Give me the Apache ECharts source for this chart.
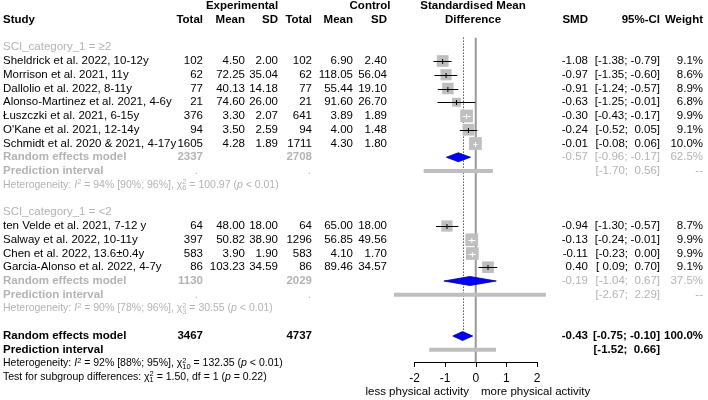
<!DOCTYPE html>
<html>
<head>
<meta charset="utf-8">
<script src="https://cdn.jsdelivr.net/npm/echarts@6/dist/echarts.min.js"></script>
<style>
  html, body { margin: 0; padding: 0; background: #fff; }
  #chart { width: 708px; height: 400px; }
</style>
</head>
<body>
<div id="chart"></div>
<script>
// subgroup SCI_category_1 = >=2
const studies1 = [
  'Sheldrick et al. 2022, 10-12y',
  'Morrison et al. 2021, 11y',
  'Dallolio et al. 2022, 8-11y',
  'Alonso-Martinez et al. 2021, 4-6y',
  'Łuszczki et al. 2021, 6-15y',
  "O'Kane et al. 2021, 12-14y",
  'Schmidt et al. 2020 & 2021, 4-17y'
]
const expN1 = [102, 62, 77, 21, 376, 94, 1605]
const expMean1 = [4.50, 72.25, 40.13, 74.60, 3.30, 3.50, 4.28]
const expSd1 = [2.00, 35.04, 14.18, 26.00, 2.07, 2.59, 1.89]
const ctrlN1 = [102, 62, 77, 21, 641, 94, 1711]
const ctrlMean1 = [6.90, 118.05, 55.44, 91.60, 3.89, 4.00, 4.30]
const ctrlSd1 = [2.40, 56.04, 19.10, 26.70, 1.89, 1.48, 1.80]
const smd1 = [-1.08, -0.97, -0.91, -0.63, -0.30, -0.24, -0.01]
const lo1 = [-1.38, -1.35, -1.24, -1.25, -0.43, -0.52, -0.08]
const hi1 = [-0.79, -0.60, -0.57, -0.01, -0.17, 0.05, 0.06]
const weight1 = [9.1, 8.6, 8.9, 6.8, 9.9, 9.1, 10.0]

// subgroup SCI_category_1 = <2
const studies2 = [
  'ten Velde et al. 2021, 7-12 y',
  'Salway et al. 2022, 10-11y',
  'Chen et al. 2022, 13.6±0.4y',
  'Garcia-Alonso et al. 2022, 4-7y'
]
const expN2 = [64, 397, 583, 86]
const expMean2 = [48.00, 50.82, 3.90, 103.23]
const expSd2 = [18.00, 38.90, 1.90, 34.59]
const ctrlN2 = [64, 1296, 583, 86]
const ctrlMean2 = [65.00, 56.85, 4.10, 89.46]
const ctrlSd2 = [18.00, 49.56, 1.70, 34.57]
const smd2 = [-0.94, -0.13, -0.11, 0.40]
const lo2 = [-1.30, -0.24, -0.23, 0.09]
const hi2 = [-0.57, -0.01, 0.00, 0.70]
const weight2 = [8.7, 9.9, 9.9, 9.1]

// pooled: subgroup 1, subgroup 2, overall
const groupLabels = ['SCI_category_1 = ≥2', 'SCI_category_1 = <2']
const pooledExpN = [2337, 1130, 3467]
const pooledCtrlN = [2708, 2029, 4737]
const pooledEst = [-0.57, -0.19, -0.43]
const pooledLo = [-0.96, -1.04, -0.75]
const pooledHi = [-0.17, 0.67, -0.10]
const pooledWeight = ['62.5%', '37.5%', '100.0%']
const predLo = [-1.70, -2.67, -1.52]
const predHi = [0.56, 2.29, 0.66]
const hetI2 = ['94%', '90%', '92%']
const hetI2Ci = ['[90%; 96%]', '[78%; 96%]', '[88%; 95%]']
const hetDf = [6, 3, 10]
const hetQ = ['100.97', '30.55', '132.35']
const subgroupTest = { chi: '1.50', df: 1, p: '0.22' }
const xTicks = [-2, -1, 0, 1, 2]

// layout
const ROW_H = 13.75
const TOP = 6
const FONT = 'Liberation Sans, Arial, sans-serif'
const GRAY = '#b3b3b3'
const MAIN = 11.5
const SMALL = 10.5
const COL = { name: 3, eN: 203, eM: 245, eS: 278, cN: 312, cM: 353, cS: 387, smd: 588, ci: 660, w: 703 }

const f2 = (v) => v.toFixed(2)
const pad = (v) => (v < 0 ? '' : ' ') + f2(v)
const fmtCI = (lo, hi) => '[' + pad(lo) + '; ' + pad(hi) + ']'

const cells = []
function cell(x, r, text, align, kind) {
  cells.push({ x, r, text, align, kind })
}

// header
cell(242, 0, 'Experimental', 'center', 'b')
cell(370, 0, 'Control', 'center', 'b')
cell(473, 0, 'Standardised Mean', 'center', 'b')
cell(COL.name, 1, 'Study', 'left', 'b')
cell(COL.eN, 1, 'Total', 'right', 'b')
cell(COL.eM, 1, 'Mean', 'right', 'b')
cell(COL.eS, 1, 'SD', 'right', 'b')
cell(COL.cN, 1, 'Total', 'right', 'b')
cell(COL.cM, 1, 'Mean', 'right', 'b')
cell(COL.cS, 1, 'SD', 'right', 'b')
cell(473, 1, 'Difference', 'center', 'b')
cell(COL.smd, 1, 'SMD', 'right', 'b')
cell(COL.ci, 1, '95%-CI', 'right', 'b')
cell(COL.w, 1, 'Weight', 'right', 'b')

const groups = [
  { names: studies1, eN: expN1, eM: expMean1, eS: expSd1, cN: ctrlN1, cM: ctrlMean1, cS: ctrlSd1, smd: smd1, lo: lo1, hi: hi1, w: weight1, start: 3 },
  { names: studies2, eN: expN2, eM: expMean2, eS: expSd2, cN: ctrlN2, cM: ctrlMean2, cS: ctrlSd2, smd: smd2, lo: lo2, hi: hi2, w: weight2, start: 15 }
]

function hetText(k) {
  return 'Heterogeneity: {it|I}{sup0|2} = ' + hetI2[k] + ' ' + hetI2Ci[k] + ', χ{sup|2}{sub|' + hetDf[k] + '} = ' + hetQ[k] + ' ({it|p} < 0.01)'
}

const studyData = []
const pooledRows = []
const predRows = []

groups.forEach((g, k) => {
  cell(COL.name, g.start, groupLabels[k], 'left', 'g')
  g.names.forEach((name, i) => {
    const r = g.start + 1 + i
    cell(COL.name, r, name, 'left', 'n')
    cell(COL.eN, r, String(g.eN[i]), 'right', 'n')
    cell(COL.eM, r, f2(g.eM[i]), 'right', 'n')
    cell(COL.eS, r, f2(g.eS[i]), 'right', 'n')
    cell(COL.cN, r, String(g.cN[i]), 'right', 'n')
    cell(COL.cM, r, f2(g.cM[i]), 'right', 'n')
    cell(COL.cS, r, f2(g.cS[i]), 'right', 'n')
    cell(COL.smd, r, f2(g.smd[i]), 'right', 'n')
    cell(COL.ci, r, fmtCI(g.lo[i], g.hi[i]), 'right', 'n')
    cell(COL.w, r, g.w[i].toFixed(1) + '%', 'right', 'n')
    studyData.push([g.smd[i], g.lo[i], g.hi[i], g.w[i], r])
  })
  const rr = g.start + 1 + g.names.length
  cell(COL.name, rr, 'Random effects model', 'left', 'gb')
  cell(COL.eN, rr, String(pooledExpN[k]), 'right', 'gb')
  cell(COL.cN, rr, String(pooledCtrlN[k]), 'right', 'gb')
  cell(COL.smd, rr, f2(pooledEst[k]), 'right', 'g')
  cell(COL.ci, rr, fmtCI(pooledLo[k], pooledHi[k]), 'right', 'g')
  cell(COL.w, rr, pooledWeight[k], 'right', 'g')
  cell(COL.name, rr + 1, 'Prediction interval', 'left', 'gb')
  cell(COL.eN - 5, rr + 1, '.', 'right', 'g')
  cell(COL.cN - 1, rr + 1, '.', 'right', 'g')
  cell(COL.ci, rr + 1, fmtCI(predLo[k], predHi[k]), 'right', 'g')
  cell(COL.w, rr + 1, '--', 'right', 'g')
  cell(COL.name, rr + 2, hetText(k), 'left', 'hg')
  pooledRows.push([pooledEst[k], pooledLo[k], pooledHi[k], rr])
  predRows.push([predLo[k], predHi[k], rr + 1])
})

// overall
cell(COL.name, 24, 'Random effects model', 'left', 'b')
cell(COL.eN, 24, String(pooledExpN[2]), 'right', 'b')
cell(COL.cN, 24, String(pooledCtrlN[2]), 'right', 'b')
cell(COL.smd, 24, f2(pooledEst[2]), 'right', 'b')
cell(COL.ci, 24, fmtCI(pooledLo[2], pooledHi[2]), 'right', 'b')
cell(COL.w, 24, pooledWeight[2], 'right', 'b')
cell(COL.name, 25, 'Prediction interval', 'left', 'b')
cell(COL.ci, 25, fmtCI(predLo[2], predHi[2]), 'right', 'b')
cell(COL.name, 26, hetText(2), 'left', 'h')
cell(COL.name, 27, 'Test for subgroup differences: χ{sup|2}{sub|' + subgroupTest.df + '} = ' + subgroupTest.chi + ', df = ' + subgroupTest.df + ' ({it|p} = ' + subgroupTest.p + ')', 'left', 'h')
pooledRows.push([pooledEst[2], pooledLo[2], pooledHi[2], 24])
predRows.push([predLo[2], predHi[2], 25])

// axis captions
cell(469, 28.05, 'less physical activity', 'right', 'n')
cell(481, 28.05, 'more physical activity', 'left', 'n')

function makeRich(color) {
  return {
    it: { fontFamily: FONT, fontSize: SMALL, fontStyle: 'italic', fill: color },
    sup: { fontFamily: FONT, fontSize: 7.5, fill: color, verticalAlign: 'top', lineHeight: 7, width: 0.01 },
    sup0: { fontFamily: FONT, fontSize: 7.5, fill: color, verticalAlign: 'top', lineHeight: 7 },
    sub: { fontFamily: FONT, fontSize: 7.5, fill: color, verticalAlign: 'bottom', lineHeight: 7 }
  }
}
const KIND = {
  b: { size: MAIN, weight: 'bold', color: '#000' },
  n: { size: MAIN, weight: 'normal', color: '#000' },
  gb: { size: MAIN, weight: 'bold', color: GRAY },
  g: { size: MAIN, weight: 'normal', color: GRAY },
  h: { size: SMALL, weight: 'normal', color: '#000', rich: makeRich('#000') },
  hg: { size: SMALL, weight: 'normal', color: GRAY, rich: makeRich(GRAY) }
}

function renderCell(params, api) {
  const c = cells[params.dataIndex]
  const k = KIND[c.kind]
  const p = api.coord([c.x, c.r])
  const style = {
    text: c.text,
    fontFamily: FONT,
    fontSize: k.size,
    fontWeight: k.weight,
    fill: k.color,
    align: c.align,
    verticalAlign: 'middle'
  }
  if (k.rich) {
    style.rich = k.rich
    style.lineHeight = 14
  }
  return { type: 'text', x: p[0], y: p[1], style }
}

function renderStudy(params, api) {
  const est = api.value(0), lo = api.value(1), hi = api.value(2), w = api.value(3), r = api.value(4)
  const c = api.coord([est, r])
  const pl = api.coord([lo, r])
  const ph = api.coord([hi, r])
  const side = 1.2 * w + 0.8
  const inside = pl[0] >= c[0] - side / 2 && ph[0] <= c[0] + side / 2
  const lc = inside ? '#fff' : '#000'
  const y = Math.round(c[1]) + 0.5
  return {
    type: 'group',
    children: [
      { type: 'rect', shape: { x: c[0] - side / 2, y: c[1] - side / 2, width: side, height: side }, style: { fill: '#bfbfbf' } },
      { type: 'line', shape: { x1: pl[0], y1: y, x2: ph[0], y2: y }, style: { stroke: lc, lineWidth: 1 } },
      { type: 'line', shape: { x1: c[0], y1: y - 2.5, x2: c[0], y2: y + 2.5 }, style: { stroke: lc, lineWidth: 1 } }
    ]
  }
}

function renderDiamond(params, api) {
  const r = api.value(3)
  const c = api.coord([api.value(0), r])
  const pl = api.coord([api.value(1), r])
  const ph = api.coord([api.value(2), r])
  const h = 4.5
  return {
    type: 'polygon',
    shape: { points: [[pl[0], c[1]], [c[0], c[1] - h], [ph[0], c[1]], [c[0], c[1] + h]] },
    style: { fill: '#0000ff', stroke: '#000080', lineWidth: 0.8 }
  }
}

function renderPred(params, api) {
  const r = api.value(2)
  const pl = api.coord([api.value(0), r])
  const ph = api.coord([api.value(1), r])
  return {
    type: 'line',
    shape: { x1: pl[0], y1: pl[1], x2: ph[0], y2: pl[1] },
    style: { stroke: '#bebebe', lineWidth: 4 }
  }
}

// reference lines: null effect and overall estimate
const refLines = [[0, 2.3, 25.9, 0], [pooledEst[2], 2.3, 23.65, 1]]
function renderRef(params, api) {
  const top = api.coord([api.value(0), api.value(1)])
  const bot = api.coord([api.value(0), api.value(2)])
  const dotted = api.value(3) === 1
  const x = dotted ? Math.round(top[0]) + 0.5 : top[0]
  return {
    type: 'line',
    shape: { x1: x, y1: top[1], x2: x, y2: bot[1] },
    style: dotted ? { stroke: '#000', lineWidth: 1, lineDash: [1, 2] } : { stroke: '#999', lineWidth: 2 }
  }
}

const chart = echarts.init(document.getElementById('chart'), null, { renderer: 'canvas' })

chart.setOption({
  backgroundColor: '#ffffff',
  animation: false,
  grid: [
    { left: 414.5, width: 122.5, top: TOP, height: 356 },
    { left: 0, right: 0, top: TOP, height: ROW_H * 28 }
  ],
  xAxis: [
    {
      gridIndex: 0,
      type: 'value',
      position: 'bottom',
      min: -2,
      max: 2,
      interval: 1,
      axisLine: { onZero: false, lineStyle: { color: '#000', width: 1 } },
      axisTick: { length: 5, lineStyle: { color: '#000' } },
      axisLabel: {
        margin: 11,
        fontSize: 12,
        fontFamily: FONT,
        color: '#000',
        formatter: (v) => (xTicks.includes(v) ? String(v) : '')
      },
      splitLine: { show: false }
    },
    { gridIndex: 1, type: 'value', min: 0, max: 708, show: false }
  ],
  yAxis: [
    { gridIndex: 0, type: 'value', min: 0, max: 356 / ROW_H, inverse: true, show: false },
    { gridIndex: 1, type: 'value', min: 0, max: 28, inverse: true, show: false }
  ],
  series: [
    {
      type: 'custom',
      xAxisIndex: 0, yAxisIndex: 0,
      clip: false,
      renderItem: renderRef,
      data: refLines,
      z: 1
    },
    {
      type: 'custom',
      xAxisIndex: 0, yAxisIndex: 0,
      clip: false,
      renderItem: renderPred,
      data: predRows,
      z: 2
    },
    {
      type: 'custom',
      xAxisIndex: 0, yAxisIndex: 0,
      clip: false,
      renderItem: renderStudy,
      data: studyData,
      z: 3
    },
    {
      type: 'custom',
      xAxisIndex: 0, yAxisIndex: 0,
      clip: false,
      renderItem: renderDiamond,
      data: pooledRows,
      z: 4
    },
    {
      type: 'custom',
      xAxisIndex: 1, yAxisIndex: 1,
      clip: false,
      renderItem: renderCell,
      data: cells.map((c) => [c.x, c.r]),
      z: 5
    }
  ]
})
</script>
</body>
</html>
